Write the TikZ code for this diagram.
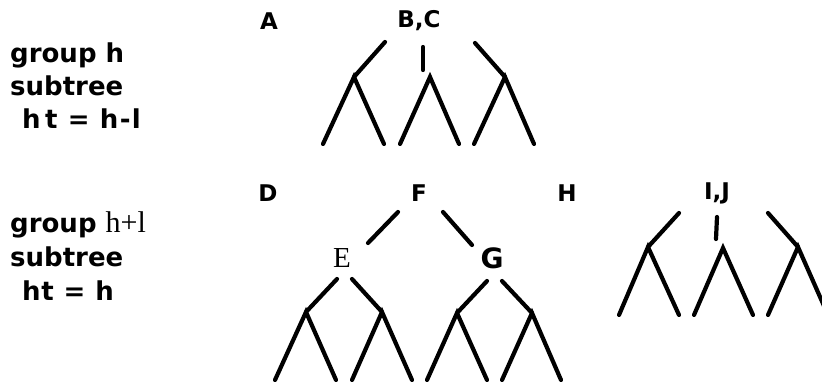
\documentclass[tikz,border=0pt]{standalone}
\usepackage{fontspec}
\setmainfont{Liberation Serif}
\newfontfamily\plotfont{DejaVu Sans}
\begin{document}
\begin{tikzpicture}[x=1pt,y=-1pt,
  branch/.style={line width=4.2pt,line cap=round},
  caption/.style={anchor=base west,inner sep=0pt,font=\plotfont\bfseries\fontsize{26}{26}\selectfont},
  keylabel/.style={inner sep=0pt,font=\plotfont\bfseries\fontsize{23}{23}\selectfont},
  bigkey/.style={inner sep=0pt,font=\plotfont\bfseries\fontsize{28}{28}\selectfont},
  serifkey/.style={inner sep=0pt,font=\fontsize{29}{29}\selectfont}]
\useasboundingbox (0,0) rectangle (822,382);
\begin{scope}
\clip (0,0) rectangle (822,382);

% left-hand captions
\node[caption] (g1) at (10,63) {group h};
\node[caption] (s1) at (10,96) {subtree};
\node[caption] (t1) at (22,129) {\addfontfeature{LetterSpace=5}h\,t = h-l};
\node[caption] (g2) at (10,233) {group \textmd{\normalfont\fontsize{30}{30}\selectfont h+l}};
\node[caption] (s2) at (10,266) {subtree};
\node[caption] (t2) at (22,300) {\addfontfeature{LetterSpace=3}ht = h};

% top row labels
\node[keylabel] (A) at (269,21) {A};
\node[keylabel] (BC) at (419,21) {B,C};

% top forest: three subtrees of height h-1
\coordinate (a1) at (385,42);  \coordinate (p1) at (354,77);
\coordinate (a2) at (423,47);  \coordinate (a2e) at (423,70);
\coordinate (p2) at (430,77);
\coordinate (a3) at (475,43);  \coordinate (p3) at (505,77);
\draw[branch] (a1) -- (p1);
\draw[branch] (a2) -- (a2e);
\draw[branch] (a3) -- (p3);
\foreach \p/\l/\r in {p1/323/384, p2/400/459, p3/474/534}
  \draw[branch] (\l,144) -- (\p) -- (\r,144);

% bottom row labels
\node[keylabel] (D) at (268,193) {D};
\node[keylabel] (F) at (419,193) {F};
\node[keylabel] (H) at (567,193) {H};
\node[keylabel] (IJ) at (717,193) {I,J};
\node[serifkey] (E) at (342,258) {E};
\node[bigkey] (G) at (492,258) {G};

% subtree rooted at F
\coordinate (fe1) at (398,212); \coordinate (fe2) at (368,243);
\coordinate (fg1) at (443,212); \coordinate (fg2) at (472,245);
\draw[branch] (fe1) -- (fe2);
\draw[branch] (fg1) -- (fg2);
\coordinate (e1) at (306,312); \coordinate (e2) at (382,312);
\coordinate (g1p) at (457,313); \coordinate (g2p) at (532,313);
\draw[branch] (337,279) -- (e1);
\draw[branch] (352,279) -- (e2);
\draw[branch] (487,281) -- (g1p);
\draw[branch] (502,281) -- (g2p);
\foreach \p/\l/\r in {e1/275/336, e2/352/412, g1p/427/487, g2p/502/561}
  \draw[branch] (\l,380) -- (\p) -- (\r,380);

% forest under I,J
\coordinate (j1) at (679,213); \coordinate (q1) at (648,247);
\coordinate (j2) at (717,217); \coordinate (j2e) at (716,239);
\coordinate (q2) at (723,248);
\coordinate (j3) at (768,213); \coordinate (q3) at (798,247);
\draw[branch] (j1) -- (q1);
\draw[branch] (j2) -- (j2e);
\draw[branch] (j3) -- (q3);
\foreach \p/\l/\r in {q1/619/679, q2/694/753, q3/768/828}
  \draw[branch] (\l,315) -- (\p) -- (\r,315);
\end{scope}
\end{tikzpicture}
\end{document}
